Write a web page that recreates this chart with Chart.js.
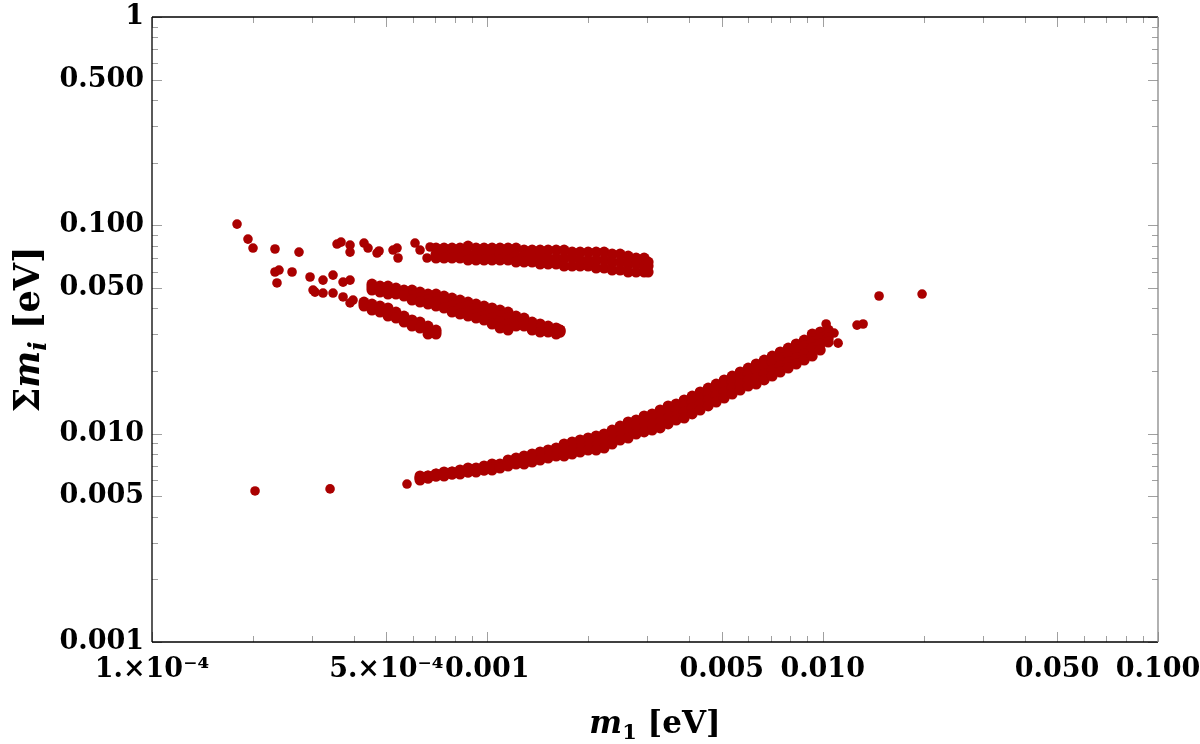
<!DOCTYPE html>
<html>
<head>
<meta charset="utf-8">
<script src="https://cdn.jsdelivr.net/npm/chart.js@4.4.1/dist/chart.umd.min.js"></script>
<style>
  html, body { margin: 0; background: #fff; }
  canvas { display: block; }
</style>
</head>
<body>
<canvas id="chartScatter" width="1200" height="744"></canvas>
<script>
// upper band (Sum m ~ 0.06-0.08 eV)
const bandAx = [7.031e-4, 7.428e-4, 7.848e-4, 8.291e-4, 8.760e-4, 9.255e-4, 9.778e-4, 1.033e-3, 1.091e-3, 1.153e-3, 1.218e-3, 1.287e-3, 1.360e-3, 1.437e-3, 1.518e-3, 1.604e-3, 1.694e-3, 1.790e-3, 1.891e-3, 1.998e-3, 2.111e-3, 2.230e-3, 2.356e-3, 2.489e-3, 2.630e-3, 2.778e-3, 2.935e-3, 3.017e-3];
const bandAtop = [0.07781, 0.07781, 0.07781, 0.07781, 0.07955, 0.07781, 0.07781, 0.07781, 0.07781, 0.07781, 0.07781, 0.07611, 0.07611, 0.07611, 0.07611, 0.07611, 0.07611, 0.07444, 0.07444, 0.07444, 0.07444, 0.07444, 0.07282, 0.07282, 0.07123, 0.06967, 0.06967, 0.06666];
const bandAmid = [0.07282, 0.07444, 0.07282, 0.07444, 0.07282, 0.07282, 0.07282, 0.07282, 0.07282, 0.07282, 0.07123, 0.07123, 0.07123, 0.07123, 0.06967, 0.06967, 0.06967, 0.06967, 0.06815, 0.06815, 0.06815, 0.06815, 0.06666, 0.06666, 0.06520, 0.06520, 0.06377, 0.06377];
const bandAlow = [0.06967, 0.06967, 0.06967, 0.06967, 0.06815, 0.06815, 0.06815, 0.06815, 0.06815, 0.06815, 0.06666, 0.06666, 0.06666, 0.06520, 0.06520, 0.06520, 0.06377, 0.06377, 0.06377, 0.06377, 0.06238, 0.06238, 0.06102, 0.06102, 0.05968, 0.05968, 0.05968, 0.05968];

// middle bands (falling, ~0.05 -> 0.03 eV)
const bandBx = [4.529e-4, 4.785e-4, 5.055e-4, 5.341e-4, 5.643e-4, 5.962e-4, 6.299e-4, 6.655e-4, 7.031e-4, 7.428e-4, 7.848e-4, 8.291e-4, 8.760e-4, 9.255e-4, 9.778e-4, 1.033e-3, 1.091e-3, 1.153e-3, 1.218e-3, 1.287e-3, 1.360e-3, 1.437e-3, 1.518e-3, 1.604e-3, 1.647e-3];
const bandBtop = [0.05227, 0.05113, 0.05113, 0.05001, 0.04892, 0.04892, 0.04785, 0.04680, 0.04680, 0.04578, 0.04478, 0.04380, 0.04284, 0.04191, 0.04099, 0.04010, 0.03922, 0.03836, 0.03670, 0.03590, 0.03435, 0.03360, 0.03286, 0.03215, 0.03144];
const bandBm1 = [0.05113, 0.05001, 0.04892, 0.04892, 0.04785, 0.04680, 0.04680, 0.04578, 0.04478, 0.04380, 0.04284, 0.04191, 0.04099, 0.04010, 0.03922, 0.03836, 0.03670, 0.03590, 0.03512, 0.03435, 0.03360, 0.03286, 0.03215, 0.03144, 0.03144];
const bandBm2 = [0.05001, 0.04892, 0.04785, 0.04785, 0.04680, 0.04578, 0.04478, 0.04380, 0.04284, 0.04191, 0.04099, 0.04010, 0.03836, 0.03752, 0.03670, 0.03590, 0.03435, 0.03360, 0.03435, 0.03360, 0.03286, 0.03215, 0.03144, 0.03076, 0.03076];
const bandBlow = [0.04892, 0.04785, 0.04680, 0.04680, 0.04578, 0.04380, 0.04284, 0.04191, 0.04099, 0.04010, 0.03836, 0.03752, 0.03670, 0.03590, 0.03512, 0.03360, 0.03215, 0.03144, 0.03286, 0.03286, 0.03144, 0.03076, 0.03076, 0.03008, 0.03076];

const bandB3x = [4.287e-4, 4.529e-4, 4.785e-4, 5.055e-4, 5.341e-4, 5.643e-4, 5.962e-4, 6.299e-4, 6.655e-4, 7.031e-4];
const bandB3top = [0.04284, 0.04191, 0.04099, 0.04010, 0.03836, 0.03670, 0.03512, 0.03435, 0.03286, 0.03144];
const bandB3mid = [0.04191, 0.04099, 0.03922, 0.03836, 0.03670, 0.03590, 0.03435, 0.03286, 0.03215, 0.03076];
const bandB3low = [0.04099, 0.03922, 0.03836, 0.03670, 0.03590, 0.03435, 0.03286, 0.03215, 0.03008, 0.03008];

// lower rising band (0.006 -> 0.03 eV)
const bandCx = [6.299e-4, 6.655e-4, 7.031e-4, 7.428e-4, 7.848e-4, 8.291e-4, 8.760e-4, 9.255e-4, 9.778e-4, 1.033e-3, 1.091e-3, 1.153e-3, 1.218e-3, 1.287e-3, 1.360e-3, 1.437e-3, 1.518e-3, 1.604e-3, 1.694e-3, 1.790e-3, 1.891e-3, 1.998e-3, 2.111e-3, 2.230e-3, 2.356e-3, 2.489e-3, 2.630e-3, 2.778e-3, 2.935e-3, 3.101e-3, 3.276e-3, 3.461e-3, 3.657e-3, 3.864e-3, 4.082e-3, 4.312e-3, 4.556e-3, 4.814e-3, 5.086e-3, 5.373e-3, 5.676e-3, 5.997e-3, 6.336e-3, 6.694e-3, 7.072e-3, 7.472e-3, 7.894e-3, 8.340e-3, 8.811e-3, 9.309e-3, 9.835e-3, 1.039e-2];
const bandCtop = [0.006264, 0.006264, 0.006404, 0.006547, 0.006547, 0.006693, 0.006843, 0.006843, 0.006996, 0.007152, 0.007152, 0.007475, 0.007642, 0.007813, 0.007988, 0.008166, 0.008349, 0.008535, 0.008921, 0.009120, 0.009324, 0.009532, 0.009745, 0.009963, 0.01041, 0.01088, 0.01138, 0.01163, 0.01216, 0.01243, 0.01299, 0.01358, 0.01388, 0.01451, 0.01516, 0.01585, 0.01656, 0.01731, 0.01810, 0.01891, 0.01977, 0.02066, 0.02160, 0.02257, 0.02359, 0.02466, 0.02577, 0.02694, 0.02815, 0.03008, 0.03076, 0.03144];
const bandCm1 = [0.006127, 0.006264, 0.006404, 0.006404, 0.006547, 0.006547, 0.006693, 0.006693, 0.006843, 0.006996, 0.006996, 0.007312, 0.007475, 0.007642, 0.007813, 0.007988, 0.008166, 0.008349, 0.008535, 0.008726, 0.008921, 0.009120, 0.009324, 0.009532, 0.009963, 0.01041, 0.01065, 0.01113, 0.01138, 0.01189, 0.01216, 0.01271, 0.01299, 0.01358, 0.01419, 0.01483, 0.01550, 0.01620, 0.01693, 0.01770, 0.01850, 0.01934, 0.02021, 0.02112, 0.02208, 0.02308, 0.02412, 0.02521, 0.02635, 0.02754, 0.02878, 0.03008];
const bandCm2 = [0.006127, 0.006127, 0.006264, 0.006404, 0.006404, 0.006547, 0.006547, 0.006693, 0.006693, 0.006843, 0.006996, 0.007152, 0.007312, 0.007475, 0.007642, 0.007642, 0.007813, 0.007988, 0.008166, 0.008349, 0.008535, 0.008726, 0.008726, 0.009120, 0.009324, 0.009745, 0.01019, 0.01041, 0.01088, 0.01113, 0.01138, 0.01189, 0.01216, 0.01271, 0.01328, 0.01388, 0.01451, 0.01516, 0.01585, 0.01656, 0.01731, 0.01810, 0.01850, 0.01934, 0.02021, 0.02112, 0.02208, 0.02308, 0.02412, 0.02577, 0.02694, 0.02878];
const bandClow = [0.005993, 0.006127, 0.006264, 0.006264, 0.006404, 0.006404, 0.006547, 0.006547, 0.006693, 0.006693, 0.006843, 0.006996, 0.007152, 0.007152, 0.007312, 0.007475, 0.007642, 0.007813, 0.007813, 0.007988, 0.008166, 0.008349, 0.008349, 0.008535, 0.008921, 0.009324, 0.009532, 0.009963, 0.01019, 0.01041, 0.01065, 0.01113, 0.01163, 0.01189, 0.01243, 0.01299, 0.01358, 0.01419, 0.01483, 0.01550, 0.01620, 0.01693, 0.01731, 0.01810, 0.01891, 0.01977, 0.02066, 0.02160, 0.02257, 0.02359, 0.02521, 0.02754];

// isolated points
const looseX = [1.793e-4, 1.933e-4, 2.001e-4, 2.327e-4, 2.744e-4, 3.563e-4, 3.662e-4, 3.896e-4, 3.896e-4, 4.288e-4, 4.408e-4, 4.754e-4, 4.689e-4, 5.233e-4, 5.379e-4, 5.416e-4, 6.086e-4, 6.300e-4, 6.611e-4, 6.748e-4,
  2.327e-4, 2.392e-4, 2.359e-4, 2.616e-4, 2.960e-4, 3.022e-4, 3.236e-4, 3.466e-4, 3.713e-4, 3.896e-4, 3.063e-4, 3.236e-4, 3.466e-4, 3.713e-4, 3.977e-4, 3.896e-4,
  2.029e-4, 3.396e-4, 5.760e-4,
  1.024e-2, 1.081e-2, 1.112e-2, 1.266e-2, 1.320e-2, 1.473e-2, 1.979e-2];
const looseY = [0.1014, 0.0859, 0.0778, 0.0770, 0.0744, 0.0813, 0.0831, 0.0804, 0.0744, 0.0822, 0.0778, 0.0753, 0.0736, 0.0761, 0.0778, 0.0697, 0.0822, 0.0761, 0.0697, 0.0787,
  0.0597, 0.0610, 0.0529, 0.0597, 0.0565, 0.0489, 0.0546, 0.0577, 0.0534, 0.0546, 0.0478, 0.0473, 0.0473, 0.0453, 0.0438, 0.0424,
  0.00531, 0.00543, 0.00573,
  0.0336, 0.0304, 0.0272, 0.0332, 0.0336, 0.0458, 0.0468];

const xTickValues = [1e-4, 5e-4, 1e-3, 5e-3, 1e-2, 5e-2, 1e-1];
const xTickLabels = ["1.\u00d710\u207b\u2074", "5.\u00d710\u207b\u2074", "0.001", "0.005", "0.010", "0.050", "0.100"];
const yTickValues = [1e-3, 5e-3, 1e-2, 5e-2, 1e-1, 5e-1, 1];
const yTickLabels = ["0.001", "0.005", "0.010", "0.050", "0.100", "0.500", "1"];

const serif = "'DejaVu Serif', 'Liberation Serif', serif";

function rowsToPoints(xs, ...rows) {
  const pts = [];
  rows.forEach(row => row.forEach((v, i) => pts.push({ x: xs[i], y: v })));
  return pts;
}

const bandPoints = [].concat(
  rowsToPoints(bandAx, bandAtop, bandAmid, bandAlow),
  rowsToPoints(bandBx, bandBtop, bandBm1, bandBm2, bandBlow),
  rowsToPoints(bandB3x, bandB3top, bandB3mid, bandB3low),
  rowsToPoints(bandCx, bandCtop, bandCm1, bandCm2, bandClow)
);
const loosePoints = rowsToPoints(looseX, looseY);

// frame with inward major/minor ticks on all four sides
const frameTicks = {
  id: "frameTicks",
  beforeDatasetsDraw(chart) {
    const { ctx, chartArea: a, scales: { x, y } } = chart;
    const seg = (x1, y1, x2, y2) => { ctx.beginPath(); ctx.moveTo(x1, y1); ctx.lineTo(x2, y2); ctx.stroke(); };
    ctx.save();
    ctx.lineWidth = 1;
    ctx.strokeStyle = "#a0a0a0";
    for (let e = -4; e <= -1; e++) {
      for (let m = 1; m <= 9; m++) {
        const v = m * Math.pow(10, e);
        if (v < x.min * 0.999 || v > x.max * 1.001) continue;
        const px = Math.round(x.getPixelForValue(v)) + 0.5;
        const len = (m === 1 || m === 5) ? 10 : 6;
        seg(px, a.bottom, px, a.bottom - len);
        seg(px, a.top, px, a.top + len);
      }
    }
    for (let e = -3; e <= 0; e++) {
      for (let m = 1; m <= 9; m++) {
        const v = m * Math.pow(10, e);
        if (v < y.min * 0.999 || v > y.max * 1.001) continue;
        const py = Math.round(y.getPixelForValue(v)) + 0.5;
        const len = (m === 1 || m === 5) ? 10 : 6;
        seg(a.left, py, a.left + len, py);
        seg(a.right, py, a.right - len, py);
      }
    }
    ctx.lineWidth = 1.3;
    ctx.strokeStyle = "#000";
    seg(a.left, a.top, a.left, a.bottom);
    seg(a.left, a.bottom, a.right, a.bottom);
    seg(a.left, a.top, a.right, a.top);
    ctx.strokeStyle = "#888";
    seg(a.right, a.top, a.right, a.bottom);
    ctx.restore();
  }
};

function drawParts(ctx, parts, baseline) {
  let total = 0;
  parts.forEach(p => { ctx.font = p.font; p.w = ctx.measureText(p.text).width; total += p.w; });
  let cx = -total / 2;
  parts.forEach(p => { ctx.font = p.font; ctx.fillText(p.text, cx, baseline + p.dy); cx += p.w; });
}

// axis titles with italic symbols and subscripts
const axisTitles = {
  id: "axisTitles",
  afterDraw(chart) {
    const { ctx, chartArea: a } = chart;
    ctx.save();
    ctx.fillStyle = "#000";
    ctx.textBaseline = "alphabetic";
    ctx.textAlign = "left";
    ctx.save();
    ctx.translate(39, (a.top + a.bottom) / 2);
    ctx.rotate(-Math.PI / 2);
    drawParts(ctx, [
      { text: "\u03a3", font: "bold 35px " + serif, dy: 0 },
      { text: "m", font: "italic bold 35px " + serif, dy: 0 },
      { text: "i", font: "italic bold 25px " + serif, dy: 7 },
      { text: " [eV]", font: "bold 35px " + serif, dy: 0 }
    ], 0);
    ctx.restore();
    ctx.translate((a.left + a.right) / 2, 733);
    drawParts(ctx, [
      { text: "m", font: "italic bold 31px " + serif, dy: 0 },
      { text: "1", font: "bold 21px " + serif, dy: 6 },
      { text: " [eV]", font: "bold 31px " + serif, dy: 0 }
    ], 0);
    ctx.restore();
  }
};

const tickFont = { family: serif, size: 27, weight: "bold" };

const configScatter = {
  type: "scatter",
  data: {
    datasets: [
      {
        data: bandPoints,
        backgroundColor: "#aa0000",
        borderWidth: 0,
        pointRadius: 5.5,
        pointHoverRadius: 5.5,
      },
      {
        data: loosePoints,
        backgroundColor: "#aa0000",
        borderWidth: 0,
        pointRadius: 4.8,
        pointHoverRadius: 4.8,
      },
    ],
  },
  options: {
    responsive: false,
    animation: false,
    layout: { padding: { top: 17, right: 42, left: 0, bottom: 0 } },
    plugins: { legend: { display: false }, tooltip: { enabled: false } },
    scales: {
      x: {
        type: "logarithmic",
        min: 1e-4,
        max: 0.1,
        grid: { display: false, drawTicks: false },
        border: { display: false },
        afterBuildTicks: s => { s.ticks = xTickValues.map(v => ({ value: v })); },
        afterFit: s => { s.height = 102; s.paddingLeft = 0; s.paddingRight = 0; },
        ticks: {
          autoSkip: false, maxRotation: 0, minRotation: 0, padding: 12,
          color: "#000", font: tickFont,
          callback: (v, i) => xTickLabels[i],
        },
      },
      y: {
        type: "logarithmic",
        min: 1e-3,
        max: 1,
        grid: { display: false, drawTicks: false },
        border: { display: false },
        afterBuildTicks: s => { s.ticks = yTickValues.map(v => ({ value: v })); },
        afterFit: s => { s.width = 152; s.paddingTop = 0; s.paddingBottom = 0; },
        ticks: {
          autoSkip: false, padding: 8,
          color: "#000", font: tickFont,
          callback: (v, i) => yTickLabels[i],
        },
      },
    },
  },
  plugins: [frameTicks, axisTitles],
};

var chartScatter = new Chart(document.getElementById("chartScatter"), configScatter);
</script>
</body>
</html>
